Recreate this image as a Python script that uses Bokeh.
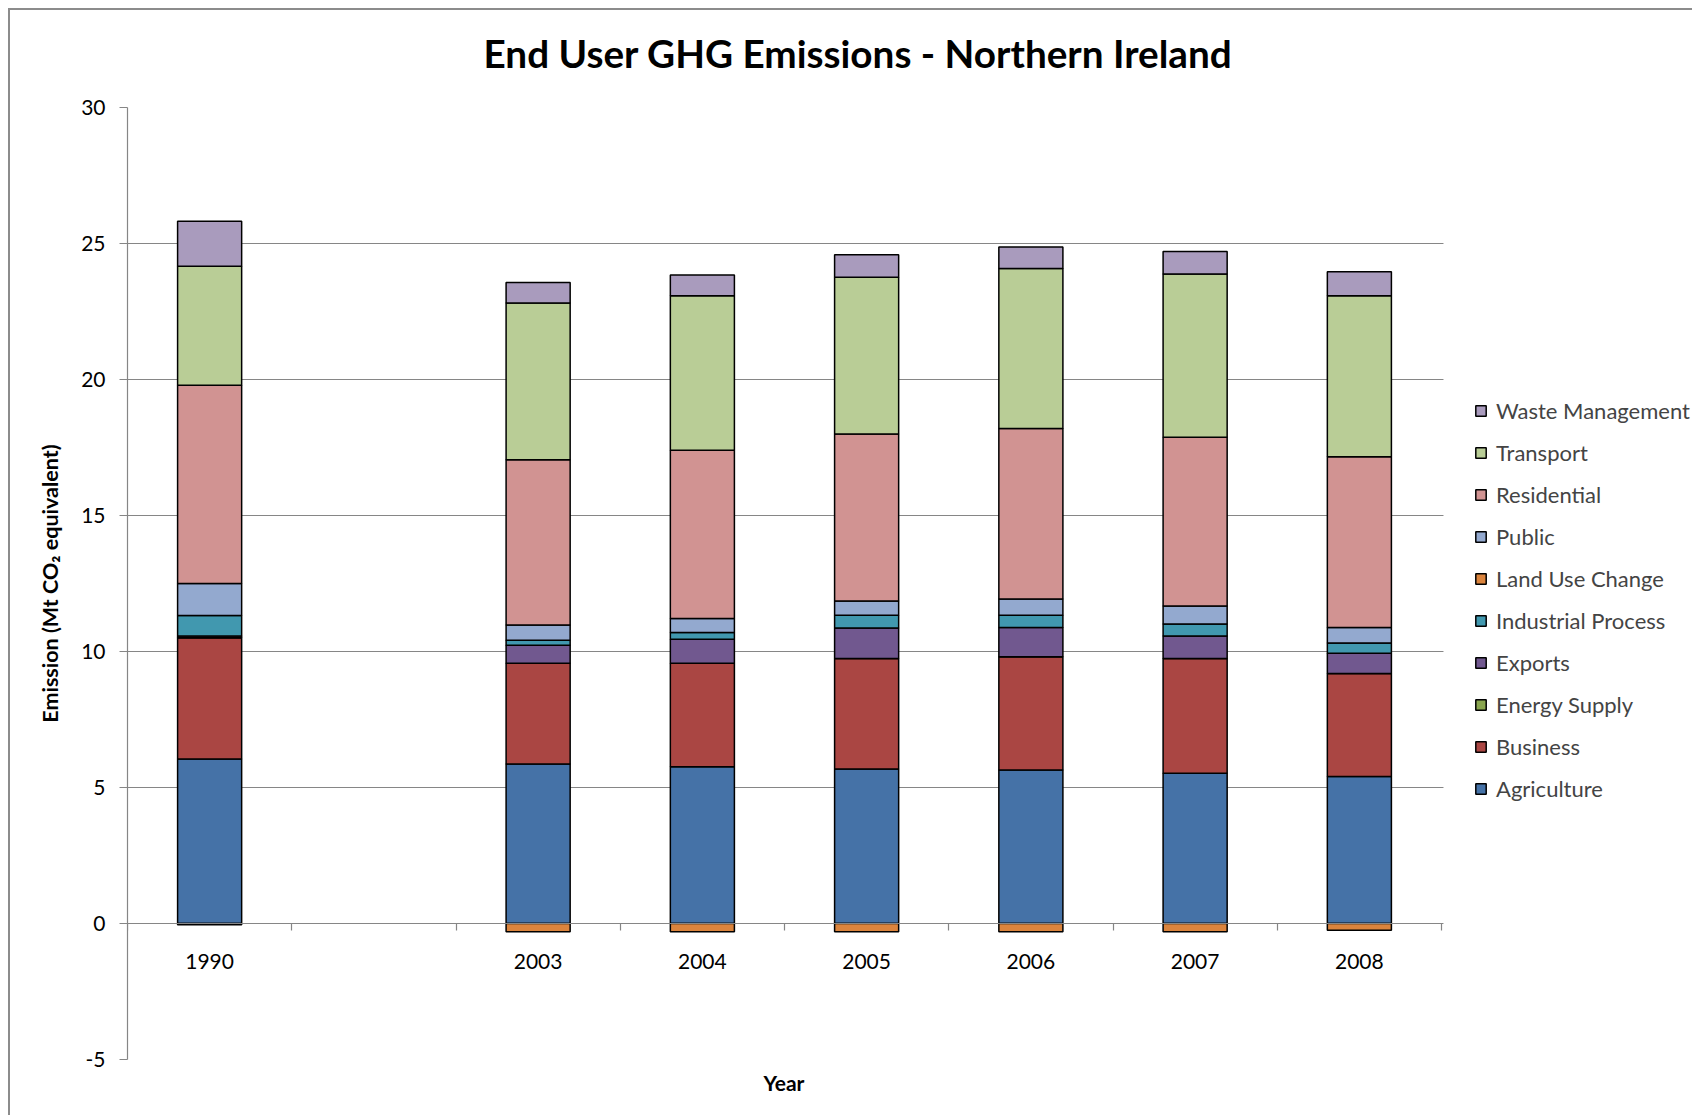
from bokeh.plotting import figure
from bokeh.models import (Range1d, FixedTicker, Legend, LegendItem, Title, BoxAnnotation)
from bokeh.embed import file_html
from bokeh.resources import INLINE
import numpy as np

# ---- data ----
axis_categories = ["1990", "", "2003", "2004", "2005", "2006", "2007", "2008"]
years = ["1990", "2003", "2004", "2005", "2006", "2007", "2008"]

agriculture = [6.05, 5.86, 5.76, 5.68, 5.64, 5.52, 5.40]
business = [4.46, 3.71, 3.81, 4.06, 4.17, 4.22, 3.79]
energy_supply = [0.0, 0.0, 0.0, 0.0, 0.0, 0.0, 0.0]
exports = [0.06, 0.66, 0.88, 1.12, 1.07, 0.83, 0.75]
industrial_process = [0.75, 0.18, 0.25, 0.47, 0.45, 0.44, 0.37]
land_use_change = [-0.05, -0.30, -0.30, -0.30, -0.30, -0.30, -0.25]
public = [1.18, 0.56, 0.51, 0.53, 0.60, 0.66, 0.57]
residential = [7.29, 6.08, 6.19, 6.14, 6.27, 6.21, 6.28]
transport = [4.37, 5.76, 5.68, 5.76, 5.88, 6.00, 5.92]
waste_management = [1.66, 0.76, 0.76, 0.83, 0.79, 0.83, 0.88]

positive_series = [
    ("Agriculture", agriculture, "#4572A7"),
    ("Business", business, "#AA4643"),
    ("Energy Supply", energy_supply, "#89A54E"),
    ("Exports", exports, "#71588F"),
    ("Industrial Process", industrial_process, "#4198AF"),
    ("Public", public, "#93A9CF"),
    ("Residential", residential, "#D19392"),
    ("Transport", transport, "#B9CD96"),
    ("Waste Management", waste_management, "#A99BBD"),
]
negative_series = ("Land Use Change", land_use_change, "#DB843D")
legend_order = ["Waste Management", "Transport", "Residential", "Public", "Land Use Change",
                "Industrial Process", "Exports", "Energy Supply", "Business", "Agriculture"]

FONT = "Lato"
GRAY = "#868686"

n_cat = len(axis_categories)
cat_lo, cat_hi = -0.5, n_cat - 0.5
PLOT_W, PLOT_H = 1684, 1107
BORDER_L, BORDER_R, BORDER_T, BORDER_B = 117, 0, 97, 58
PX_PER_CAT = 164.25  # width of one category slot in pixels
frame_w = PLOT_W - BORDER_L - BORDER_R
x_end = cat_lo + frame_w / PX_PER_CAT   # extra room on the right holds the legend

p = figure(width=PLOT_W, height=PLOT_H, title=None,
           x_range=Range1d(cat_lo, x_end), y_range=Range1d(-5, 30),
           output_backend="svg", toolbar_location=None,
           min_border_left=BORDER_L, min_border_right=BORDER_R,
           min_border_top=BORDER_T, min_border_bottom=BORDER_B)
p.outline_line_color = None
p.background_fill_color = "white"
p.border_fill_color = "white"

xpos = np.array([axis_categories.index(y) for y in years], dtype=float)
bar_w = 0.39

renderers = {}
base = np.zeros(len(years))
for name, vals, col in positive_series:
    v = np.array(vals)
    r = p.vbar(x=xpos, width=bar_w, bottom=base, top=base + v, fill_color=col,
               line_color="black", line_width=1.5)
    renderers[name] = r
    base = base + v
name, vals, col = negative_series
r = p.vbar(x=xpos, width=bar_w, bottom=np.zeros(len(years)), top=np.array(vals), fill_color=col,
           line_color="black", line_width=1.5)
renderers[name] = r

# titles: spacer (nearest frame) then main title
p.add_layout(Title(text=" ", text_font_size="1px", standoff=29), "above")
p.add_layout(Title(text="End User GHG Emissions - Northern Ireland", text_font=FONT,
                   text_font_size="38.7px", text_font_style="bold", text_color="black",
                   align="left", offset=356, standoff=0), "above")

# y axis
yticks = list(range(-5, 31, 5))
p.yaxis.ticker = FixedTicker(ticks=yticks)
p.ygrid.ticker = FixedTicker(ticks=yticks)
p.ygrid.grid_line_color = GRAY
p.ygrid.grid_line_width = 1.2
p.xgrid.visible = False
ya = p.yaxis[0]
ya.axis_line_color = GRAY
ya.axis_line_width = 1.2
ya.major_tick_line_color = GRAY
ya.major_tick_in = 0
ya.major_tick_out = 8
ya.minor_tick_line_color = None
ya.major_label_standoff = 14
ya.major_label_text_font = FONT
ya.major_label_text_font_size = "21px"
ya.major_label_text_color = "black"
ya.major_label_overrides = {t: str(t) for t in yticks}
ya.axis_label = "Emission (Mt CO₂ equivalent)"
ya.axis_label_text_font = FONT
ya.axis_label_text_font_size = "21.5px"
ya.axis_label_text_font_style = "bold"
ya.axis_label_text_color = "black"
ya.axis_label_standoff = 15

# x axis at y = 0
xa = p.xaxis[0]
xa.fixed_location = 0
xa.bounds = (cat_lo, cat_hi)
xa.ticker = FixedTicker(ticks=list(range(n_cat)),
                        minor_ticks=[i - 0.5 for i in range(n_cat + 1)])
xa.major_label_overrides = {i: c for i, c in enumerate(axis_categories)}
xa.major_tick_in = 0
xa.major_tick_out = 0
xa.minor_tick_in = 0
xa.minor_tick_out = 7
xa.minor_tick_line_color = GRAY
xa.minor_tick_line_width = 1.2
xa.axis_line_color = GRAY
xa.axis_line_width = 1.2
xa.major_label_standoff = 23
xa.major_label_text_font = FONT
xa.major_label_text_font_size = "21px"
xa.major_label_text_color = "black"

# x axis title, centred under the category area
p.add_layout(Title(text="Year", text_font=FONT, text_font_size="21px",
                   text_font_style="bold", text_color="black",
                   align="left", offset=636, standoff=17), "below")

# blank out the legend area to the right of the category axis
p.add_layout(BoxAnnotation(left=cat_hi + 0.012, fill_color="white", fill_alpha=1.0,
                           line_color=None))

legend = Legend(items=[LegendItem(label=n, renderers=[renderers[n]]) for n in legend_order],
                location=(1347, 257), border_line_color=None, background_fill_alpha=0,
                glyph_width=13, glyph_height=13, label_height=20, spacing=15,
                padding=5, margin=0, label_standoff=9,
                label_text_font=FONT, label_text_font_size="22px")
p.add_layout(legend, "center")

p.styles = {"border-top": "2px solid #8c8c8c", "border-left": "2px solid #8c8c8c",
            "margin": "8px 0 0 8px"}

open("out.html", "w").write(file_html(p, INLINE))
